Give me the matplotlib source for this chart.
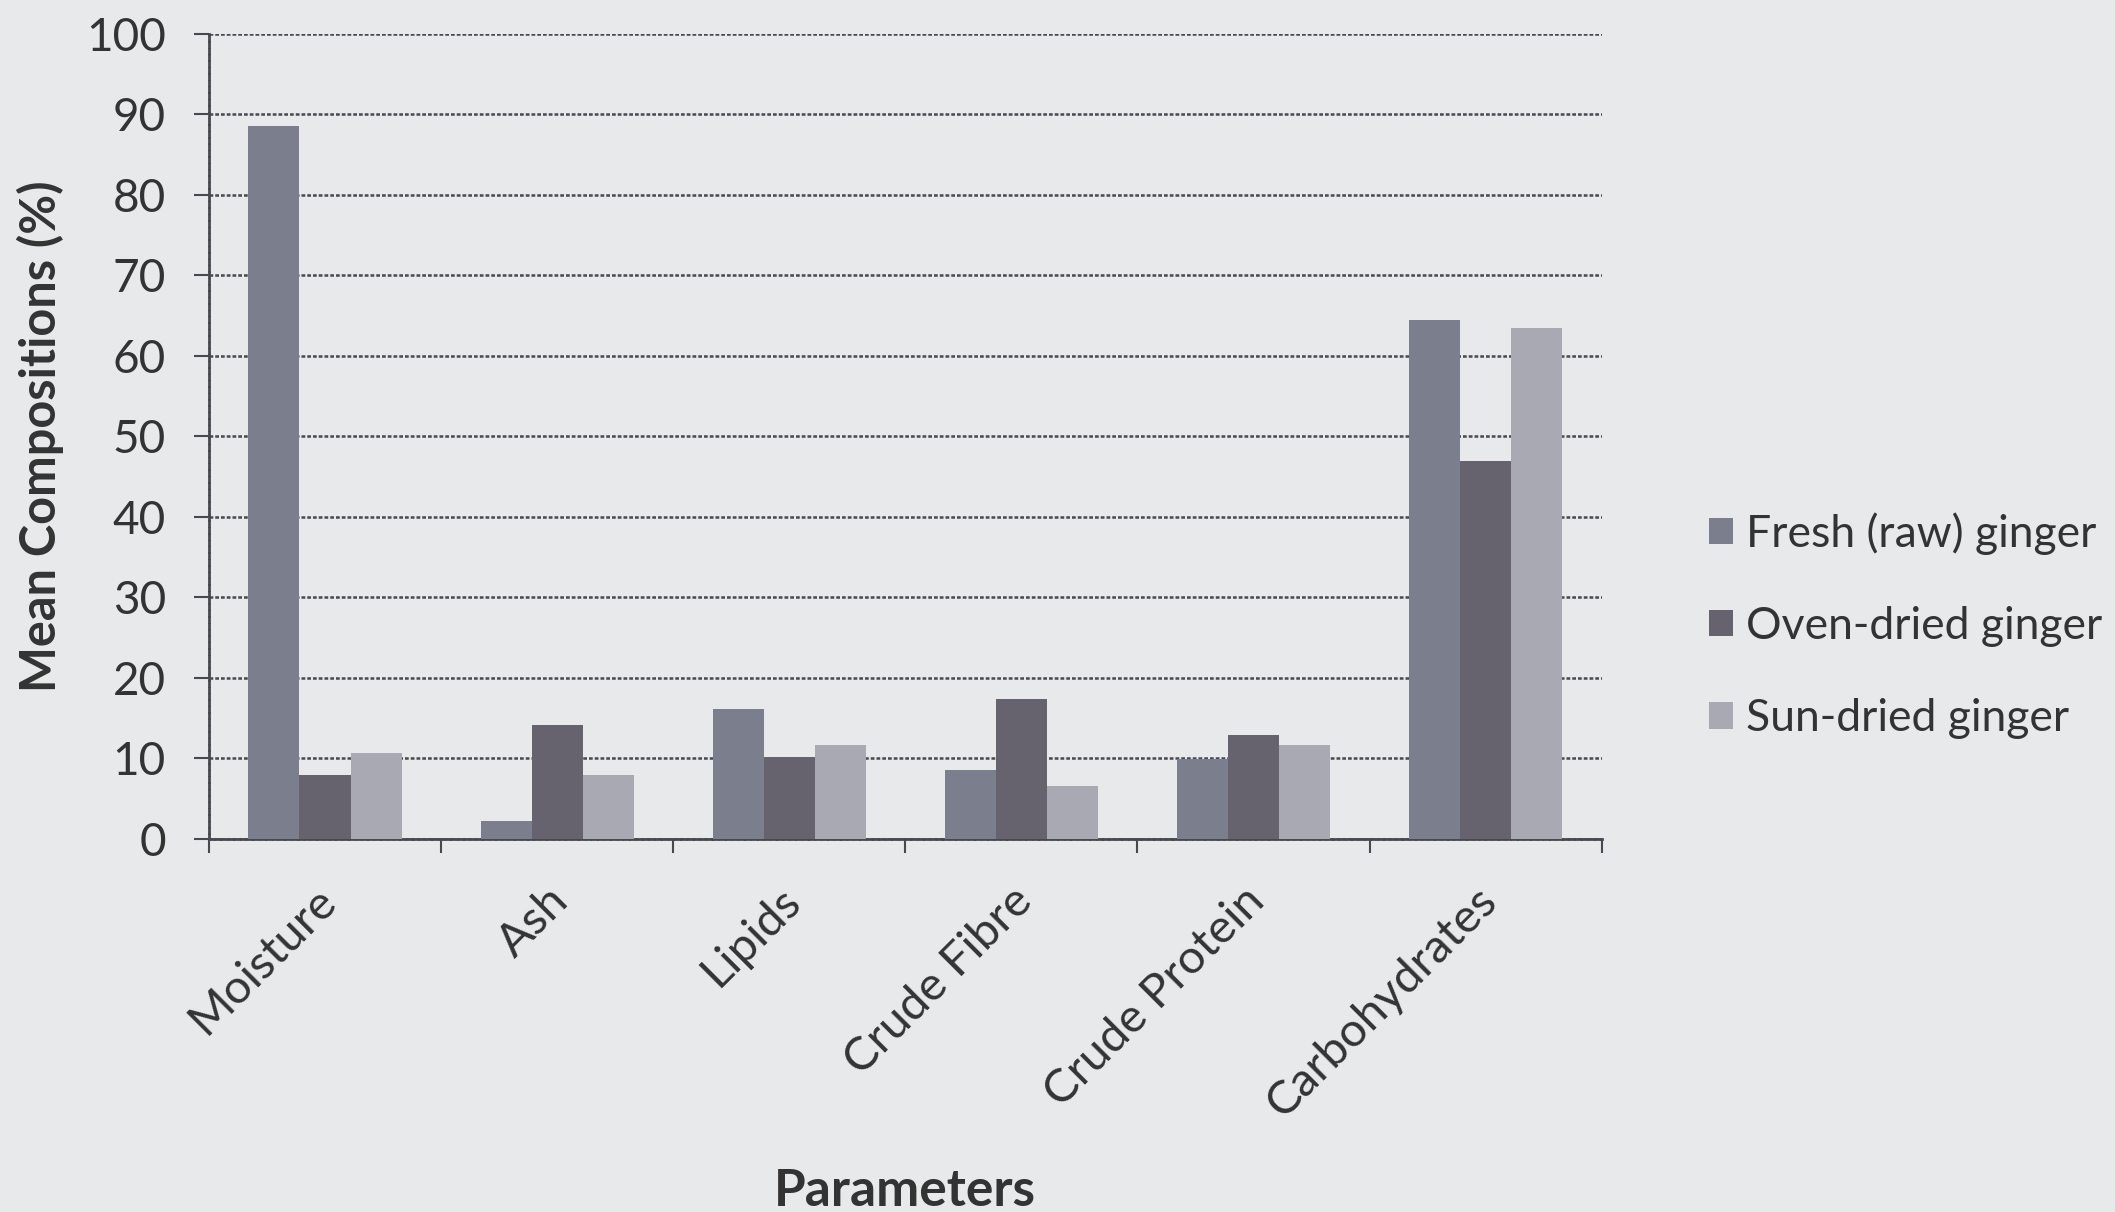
import numpy as np
import matplotlib.pyplot as plt

# mean proximate composition (%) of ginger samples
parameters = ['Moisture', 'Ash', 'Lipids', 'Crude Fibre', 'Crude Protein', 'Carbohydrates']
fresh = [88.6, 2.2, 16.1, 8.5, 9.9, 64.5]
oven_dried = [7.9, 14.1, 10.2, 17.3, 12.9, 46.9]
sun_dried = [10.7, 7.9, 11.6, 6.5, 11.6, 63.4]
series_names = ['Fresh (raw) ginger', 'Oven-dried ginger', 'Sun-dried ginger']
colors = ['#7a7e8d', '#67636e', '#a8a9b3']

plt.rcParams['font.family'] = ['Lato', 'DejaVu Sans']

bg = '#e7e9ea'
grid_c = '#474950'
fig = plt.figure(figsize=(21.15, 12.12), dpi=100, facecolor=bg)
ax = fig.add_axes([0.0988, 0.308, 0.6585, 0.664], facecolor=bg)

x = np.arange(len(parameters))
w = 0.22
for i, (vals, name, c) in enumerate(zip([fresh, oven_dried, sun_dried], series_names, colors)):
    ax.bar(x + (i - 1) * w, vals, width=w, color=c, label=name, zorder=3)

ax.set_xlim(-0.5, len(parameters) - 0.5)
ax.set_ylim(0, 100)
ax.set_yticks(range(0, 101, 10))
ax.yaxis.grid(True, color=grid_c, linestyle=(0, (1.5, 0.8)), linewidth=1.8, zorder=1)
ax.set_axisbelow(True)

# category boundaries carry the tick marks; the rotated labels hang just
# left of each category centre
ax.set_xticks(np.arange(-0.5, len(parameters)), minor=False)
ax.set_xticklabels([])
ax.set_xticks(x - 0.045, minor=True)
ax.set_xticklabels(parameters, minor=True, rotation=45, ha='right',
                   rotation_mode='anchor', fontsize=34, color='#333333')
ax.tick_params(axis='x', which='major', length=10, width=1.5, color=grid_c)
ax.tick_params(axis='x', which='minor', length=0, pad=29)
ax.tick_params(axis='y', length=11, width=1.5, color=grid_c, labelsize=33,
               labelcolor='#333333', pad=20)

for side in ['top', 'right']:
    ax.spines[side].set_visible(False)
for side in ['left', 'bottom']:
    ax.spines[side].set_linestyle((0, (1.5, 0.8)))
    ax.spines[side].set_linewidth(2)
    ax.spines[side].set_color(grid_c)

ax.set_ylabel('Mean Compositions (%)', fontsize=35, fontweight='bold', color='#333333', labelpad=16)
ax.set_xlabel('Parameters', fontsize=37, fontweight='bold', color='#333333', labelpad=31)

ax.legend(loc='center left', bbox_to_anchor=(1.048, 0.265), frameon=False,
          fontsize=32, handlelength=0.55, handleheight=0.55, handletextpad=0.3,
          labelspacing=1.15, labelcolor='#333333')

fig.savefig('out.png', dpi=100, facecolor=bg)
